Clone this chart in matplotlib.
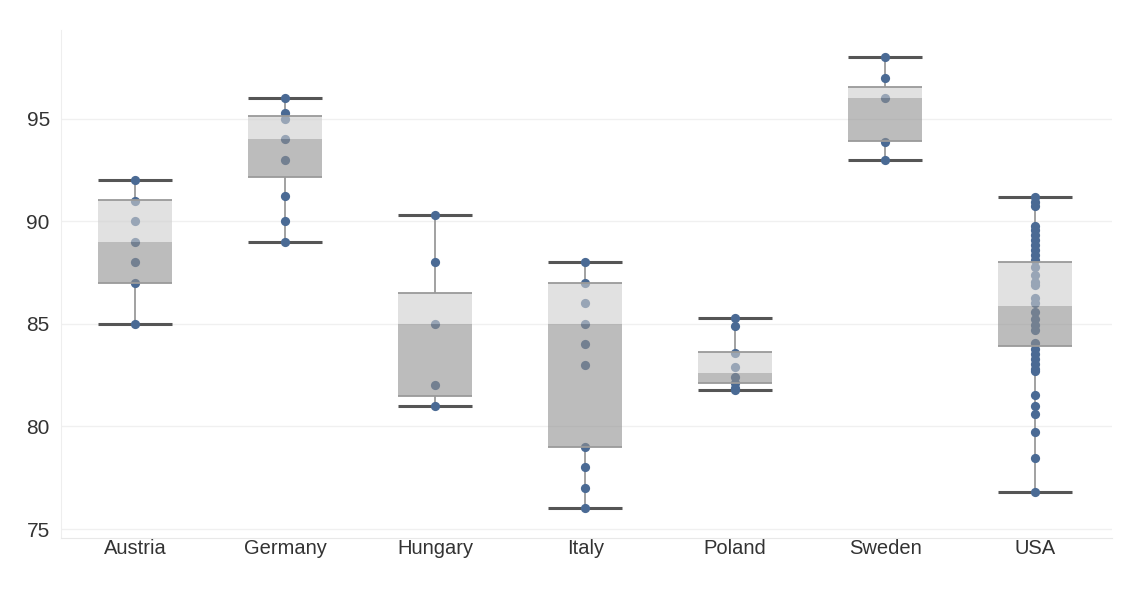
import matplotlib
matplotlib.use("Agg")
import matplotlib.pyplot as plt
import numpy as np

plt.rcParams['font.family'] = ['Liberation Sans', 'DejaVu Sans']

# Paises en el eje x
paises = ['Austria', 'Germany', 'Hungary', 'Italy', 'Poland', 'Sweden', 'USA']

# Valores individuales (puntos) de cada pais
austria = [85, 87, 88, 89, 90, 91, 92]
germany = [89, 90, 91.25, 93, 94, 95, 95.3, 96]
hungary = [81, 82, 85, 88, 90.3]
italy = [76, 77, 78, 79, 83, 84, 85, 86, 87, 88]
poland = [81.8, 81.9, 82.1, 82.4, 82.9, 83.6, 84.9, 85.3]
sweden = [93, 93.9, 96, 97, 98]
usa = [76.8, 78.45, 79.75, 80.6, 81.0, 81.55, 82.7, 82.8, 83.05, 83.3, 83.55,
       83.8, 84.05, 84.7, 84.95, 85.25, 85.6, 86.0, 86.25, 86.9, 87.05, 87.4,
       87.8, 88.1, 88.35, 88.6, 88.85, 89.1, 89.35, 89.6, 89.8, 90.75, 90.95,
       91.2]
valores = [austria, germany, hungary, italy, poland, sweden, usa]

# Estadisticos de las cajas
q1 = [87.0, 92.15, 81.5, 79.0, 82.1, 93.95, 83.95]
mediana = [89.0, 94.0, 85.0, 85.0, 82.6, 96.0, 85.9]
q3 = [91.05, 95.15, 86.5, 87.0, 83.65, 96.55, 88.0]
bigote_inf = [85.0, 89.0, 81.0, 76.0, 81.8, 93.0, 76.8]
bigote_sup = [92.0, 96.0, 90.3, 88.0, 85.3, 98.0, 91.2]

X = np.arange(len(paises))
ancho = 0.49

fig = plt.figure(figsize=(11.25, 5.98), dpi=100)
ax = fig.add_axes([0.0542, 0.1003, 0.934, 0.8495])

# Bigotes (linea vertical hasta la caja) y topes
ax.vlines(X, bigote_inf, q1, color='#9a9a9a', linewidth=1.3, zorder=1)
ax.vlines(X, q3, bigote_sup, color='#9a9a9a', linewidth=1.3, zorder=1)
ax.hlines(bigote_inf, X - ancho / 2, X + ancho / 2, color='#555555', linewidth=2.2, zorder=1.5)
ax.hlines(bigote_sup, X - ancho / 2, X + ancho / 2, color='#555555', linewidth=2.2, zorder=1.5)

# Puntos
for i, vals in enumerate(valores):
    ax.scatter(np.full(len(vals), X[i]), vals, s=44, color='#4a6a94', zorder=2, linewidths=0)

# Cajas en dos tonos
q1 = np.array(q1)
mediana = np.array(mediana)
q3 = np.array(q3)
ax.bar(X, mediana - q1, bottom=q1, width=ancho, color='#909090', alpha=0.6, zorder=3, linewidth=0)
ax.bar(X, q3 - mediana, bottom=mediana, width=ancho, color='#cdcdcd', alpha=0.6, zorder=3, linewidth=0)
ax.hlines(q1, X - ancho / 2, X + ancho / 2, color='#9a9a9a', linewidth=1.3, zorder=4)
ax.hlines(q3, X - ancho / 2, X + ancho / 2, color='#9a9a9a', linewidth=1.3, zorder=4)

ax.set_xlim(-0.495, 6.51)
ax.set_ylim(74.56, 99.34)
ax.set_xticks(X)
ax.set_xticklabels(paises, fontsize=14.5)
ax.set_yticks([75, 80, 85, 90, 95])
ax.tick_params(axis='both', length=0, colors='#333333')
ax.tick_params(axis='y', pad=8, labelsize=15)
ax.tick_params(axis='x', pad=1)
ax.grid(axis='y', color='#f0f0f0', linewidth=1)
ax.set_axisbelow(True)

for lado in ['top', 'right']:
    ax.spines[lado].set_visible(False)
ax.spines['left'].set_color('#eeeeee')
ax.spines['bottom'].set_color('#e8e8e8')

fig.savefig('out.png', dpi=100)
